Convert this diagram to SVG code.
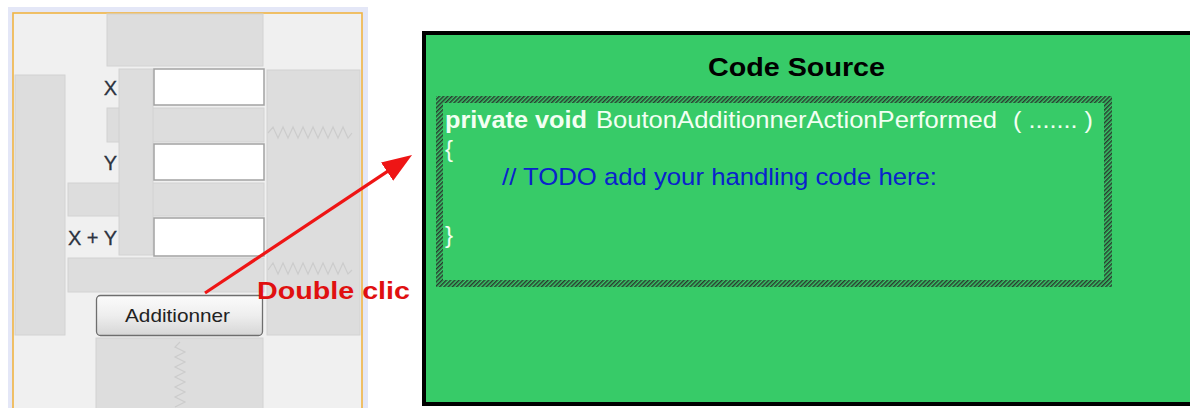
<svg xmlns="http://www.w3.org/2000/svg" width="1190" height="408" viewBox="0 0 1190 408">
  <defs>
    <style>
      .blk { fill: #dddddd; stroke: #d2d2d2; stroke-width: 1; }
      .field { fill: #ffffff; stroke: #a2a2a2; stroke-width: 1.5; }
      .lbl { font-family: "Liberation Sans", Arial, sans-serif; font-size: 20px; fill: #2c3340; text-anchor: end; stroke: #2c3340; stroke-width: 0.3; }
      .zig { fill: none; stroke: #cccccc; stroke-width: 1.2; }
      .code { font-family: "Liberation Sans", Arial, sans-serif; font-size: 24px; fill: #f2fff2; }
    </style>
    <linearGradient id="btnGrad" x1="0" y1="0" x2="0" y2="1">
      <stop offset="0" stop-color="#fbfbfb"/>
      <stop offset="0.5" stop-color="#eeeeee"/>
      <stop offset="1" stop-color="#d6d6d6"/>
    </linearGradient>
    <pattern id="hatch" patternUnits="userSpaceOnUse" width="3" height="10" patternTransform="rotate(45)">
      <rect x="0" y="0" width="3" height="10" fill="#37cb68"/>
      <rect x="0" y="0" width="1.5" height="10" fill="#2b3a30"/>
    </pattern>
    <marker id="arrowHead" markerUnits="userSpaceOnUse" markerWidth="32" markerHeight="24" refX="10" refY="11" orient="auto">
      <path d="M0,0 L30,11 L0,22 Z" fill="#ee1515"/>
    </marker>
  </defs>

  <rect x="0" y="0" width="1190" height="408" fill="#ffffff"/>

  <!-- GUI form designer panel -->
  <g id="form-panel">
    <rect x="8" y="7" width="360" height="410" fill="#e4e7f7"/>
    <rect x="13" y="13" width="349" height="400" fill="#f0f0f0" stroke="#f0b444" stroke-width="1.6"/>
    <rect class="blk" x="107" y="14" width="156" height="52"/>
    <rect class="blk" x="15" y="75" width="50" height="260"/>
    <rect class="blk" x="267" y="70" width="93" height="265"/>
    <rect class="blk" x="107" y="108" width="157" height="34"/>
    <rect class="blk" x="68" y="183" width="196" height="33"/>
    <rect class="blk" x="68" y="258" width="196" height="34"/>
    <rect class="blk" x="119" y="69" width="34" height="186"/>
    <rect class="blk" x="96" y="338" width="167" height="75"/>
    <polyline class="zig" points="268,133 273,127 278,138 283,127 288,138 293,127 298,138 303,127 308,138 313,127 318,138 323,127 328,138 333,127 338,138 343,127 348,138 352,133"/>
    <polyline class="zig" points="268,270 273,263 278,274 283,263 288,274 293,263 298,274 303,263 308,274 313,263 318,274 323,263 328,274 333,263 338,274 343,263 348,274 352,270"/>
    <polyline class="zig" points="180,342 175,347 185,352 175,357 185,362 175,367 185,372 175,377 185,382 175,387 185,392 175,397 185,402 175,407"/>
  </g>

  <g id="field-x">
    <rect class="field" x="154" y="69" width="110" height="36"/>
    <text class="lbl" x="117" y="95">X</text>
  </g>
  <g id="field-y">
    <rect class="field" x="154" y="144" width="110" height="36"/>
    <text class="lbl" x="117" y="170">Y</text>
  </g>
  <g id="field-sum">
    <rect class="field" x="154" y="218" width="110" height="38"/>
    <text class="lbl" x="117" y="245">X + Y</text>
  </g>

  <g id="button-additionner">
    <rect x="96.5" y="295.5" width="166" height="40" rx="4" fill="url(#btnGrad)" stroke="#6e6e6e" stroke-width="1.3"/>
    <text x="125" y="322" font-family="'Liberation Sans', Arial, sans-serif" font-size="19" fill="#222222" textLength="105" lengthAdjust="spacingAndGlyphs">Additionner</text>
  </g>

  <!-- source code window -->
  <g id="code-window">
    <rect x="424" y="33" width="800" height="371" fill="#37cb68" stroke="#000000" stroke-width="4"/>
    <text x="708" y="76" font-family="'Liberation Sans', Arial, sans-serif" font-size="25" font-weight="bold" fill="#000000" textLength="177" lengthAdjust="spacingAndGlyphs">Code Source</text>
    <path d="M436,96 H1112 V287 H436 Z M443,103 V280 H1104 V103 Z" fill="url(#hatch)" fill-rule="evenodd"/>
    <text class="code" x="445" y="128" font-weight="bold" textLength="142" lengthAdjust="spacingAndGlyphs">private void</text>
    <text class="code" x="596" y="128" textLength="401" lengthAdjust="spacingAndGlyphs">BoutonAdditionnerActionPerformed</text>
    <text class="code" x="1013" y="128" textLength="80" lengthAdjust="spacingAndGlyphs">( ....... )</text>
    <text class="code" x="445" y="157">{</text>
    <text class="code" x="502" y="185" style="fill:#0a22cc" textLength="435" lengthAdjust="spacingAndGlyphs">// TODO add your handling code here:</text>
    <text class="code" x="445" y="243">}</text>
  </g>

  <!-- double-click connector -->
  <g id="connectors">
    <line x1="205" y1="293" x2="395.4" y2="166.1" stroke="#ee1515" stroke-width="3.2" marker-end="url(#arrowHead)"/>
    <text x="257" y="299" font-family="'Liberation Sans', Arial, sans-serif" font-size="24" font-weight="bold" fill="#e01010" textLength="153" lengthAdjust="spacingAndGlyphs">Double clic</text>
  </g>
</svg>
